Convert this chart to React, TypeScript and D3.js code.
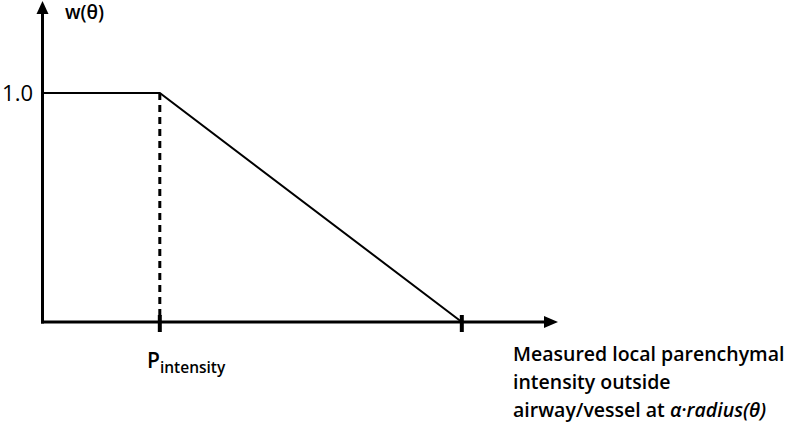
import React, { useEffect, useRef } from 'react';
import * as d3 from 'd3';

// weight curve: flat at 1.0 up to P_intensity, then falls linearly to 0
const curveX = [0, 22.8, 81.5];
const curveY = [1.0, 1.0, 0];
const yTickValues = [1.0];
const yTickLabels = ['1.0'];
const xTickValues = [22.8, 81.5];
const xLabelLines = ['Measured local parenchymal', 'intensity outside', 'airway/vessel at '];

export default function App() {
  const ref = useRef<SVGSVGElement | null>(null);

  useEffect(() => {
    const width = 793;
    const height = 432;
    const svg = d3.select(ref.current);
    svg.selectAll('*').remove();

    const x = d3.scaleLinear().domain([0, 100]).range([42.5, 557]);
    const y = d3.scaleLinear().domain([0, 1.0]).range([322, 93]);
    const font = '"Open Sans", sans-serif';

    // axes with arrow heads
    svg.append('line')
      .attr('x1', x(0)).attr('x2', x(0))
      .attr('y1', y(0) + 1.5).attr('y2', 12)
      .attr('stroke', '#000').attr('stroke-width', 3);
    svg.append('path')
      .attr('d', `M${x(0) - 6},14 L${x(0)},1 L${x(0) + 6},14 Z`)
      .attr('fill', '#000');
    svg.append('line')
      .attr('x1', x(0) - 1.5).attr('x2', 547)
      .attr('y1', y(0)).attr('y2', y(0))
      .attr('stroke', '#000').attr('stroke-width', 3);
    svg.append('path')
      .attr('d', `M544,${y(0) - 6} L558,${y(0)} L544,${y(0) + 6} Z`)
      .attr('fill', '#000');

    // x ticks
    svg.selectAll('.xt')
      .data(xTickValues)
      .enter()
      .append('line')
      .attr('x1', d => x(d)).attr('x2', d => x(d))
      .attr('y1', y(0) - 7).attr('y2', y(0) + 10)
      .attr('stroke', '#000').attr('stroke-width', 4);

    // dashed drop line
    svg.append('line')
      .attr('x1', x(curveX[1])).attr('x2', x(curveX[1]))
      .attr('y1', y(curveY[1])).attr('y2', y(0))
      .attr('stroke', '#000').attr('stroke-width', 3)
      .attr('stroke-dasharray', '7,5');

    // curve
    const line = d3.line<number>()
      .x((d, i) => x(curveX[i]))
      .y(d => y(d));
    svg.append('path')
      .datum(curveY)
      .attr('d', line)
      .attr('fill', 'none')
      .attr('stroke', '#000')
      .attr('stroke-width', 2);

    // y tick labels
    svg.selectAll('.yl')
      .data(yTickValues)
      .enter()
      .append('text')
      .attr('x', 33)
      .attr('y', d => y(d) + 7.5)
      .attr('text-anchor', 'end')
      .style('font-family', font)
      .style('font-size', '22px')
      .text((d, i) => yTickLabels[i]);

    // y axis title
    svg.append('text')
      .attr('x', 65).attr('y', 19)
      .style('font-family', font)
      .style('font-weight', 600)
      .style('font-size', '19px')
      .text('w(θ)');

    // P_intensity label
    const p = svg.append('text')
      .attr('x', 147).attr('y', 368)
      .style('font-family', font)
      .style('font-weight', 600);
    p.append('tspan').style('font-size', '21px').text('P');
    p.append('tspan').attr('dy', 5).style('font-size', '15.5px').text('intensity');

    // x axis title
    const lines = svg.append('g')
      .style('font-family', font)
      .style('font-weight', 600)
      .style('font-size', '19.5px');
    xLabelLines.forEach((t, i) => {
      const tx = lines.append('text')
        .attr('x', 513)
        .attr('y', 361 + i * 28)
        .text(t);
      if (i === 2) {
        tx.append('tspan').style('font-style', 'italic').text('α·radius(θ)');
      }
    });

    svg.attr('width', width).attr('height', height);
  }, []);

  return (
    <svg
      ref={ref}
      width={793}
      height={432}
      style={{ position: 'absolute', left: 0, top: 0, background: '#fff' }}
    />
  );
}
